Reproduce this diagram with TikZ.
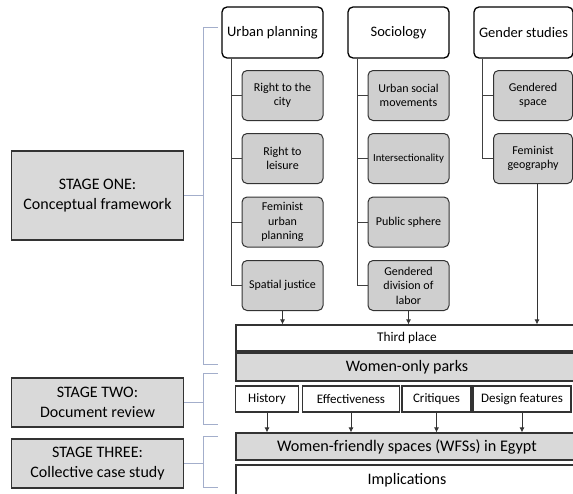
\documentclass[tikz,border=0pt]{standalone}
\usepackage{fontspec}
\setmainfont{Carlito}
\usetikzlibrary{arrows.meta}
\definecolor{boxgray}{HTML}{D9D9D9}
\definecolor{leafgray}{HTML}{CFCFCF}
\definecolor{bracketblue}{HTML}{A3AECB}
\tikzstyle{head}=[draw=black,line width=1.3pt,rounded corners=5pt,fill=white,minimum width=101pt,minimum height=51pt,inner sep=0pt,font=\fontsize{14.5}{17}\selectfont]
\tikzstyle{leaf}=[draw=black!80,line width=1pt,rounded corners=5pt,fill=leafgray,minimum width=81pt,minimum height=50pt,inner sep=0pt,align=center,font=\fontsize{12}{14.5}\selectfont]
\tikzstyle{stage}=[draw=black!80,line width=1.2pt,fill=boxgray,inner sep=0pt,align=center,minimum width=172pt,font=\fontsize{16}{19.5}\selectfont]
\tikzstyle{band}=[draw=black!80,line width=1.2pt,inner sep=0pt,minimum width=342pt]
\tikzstyle{tag}=[draw=black!80,line width=1.2pt,fill=white,inner sep=0pt,minimum height=26pt,font=\fontsize{13}{15}\selectfont]
\tikzstyle{bracket}=[draw=bracketblue,line width=0.7pt]
\tikzstyle{trunk}=[draw=black!75,line width=0.9pt]
\tikzstyle{flow}=[draw=black!80,line width=0.8pt,-{Latex[length=5pt,width=5pt]}]

\begin{document}
\begin{tikzpicture}[x=1pt,y=-1pt]
\useasboundingbox (0,0) rectangle (573,493);
\clip (0,0) rectangle (573,493);
% disciplines
\node[head] at (272.5, 32.5) (up) {Urban planning};
\node[head] at (398.5, 32.5) (soc) {Sociology};
\node[head, minimum width=99pt] at (523.5, 32.5) (gs) {Gender studies};
\node[leaf] at (282.5, 95.5) (rc) {Right to the\\city};
\node[leaf] at (282.5, 158.5) (rl) {Right to\\leisure};
\node[leaf] at (282.5, 222) (fu) {Feminist\\urban\\planning};
\node[leaf] at (282.5, 285.5) (sj) {Spatial justice};
\node[leaf] at (408.5, 95.5) (usm) {Urban social\\movements};
\node[leaf, font=\fontsize{10.8}{13}\selectfont] at (408.5, 158.5) (inter) {Intersectionality};
\node[leaf] at (408.5, 222) (ps) {Public sphere};
\node[leaf] at (408.5, 285.5) (gdl) {Gendered\\division of\\labor};
\node[leaf, minimum width=79pt] at (533, 95.5) (gsp) {Gendered\\space};
\node[leaf, minimum width=79pt] at (533, 158.5) (fg) {Feminist\\geography};
\draw[trunk] ([xshift=10pt]up.south west) |- (rc.west);
\draw[trunk] ([xshift=10pt]up.south west) |- (rl.west);
\draw[trunk] ([xshift=10pt]up.south west) |- (fu.west);
\draw[trunk] ([xshift=10pt]up.south west) |- (sj.west);
\draw[trunk] ([xshift=10pt]soc.south west) |- (usm.west);
\draw[trunk] ([xshift=10pt]soc.south west) |- (inter.west);
\draw[trunk] ([xshift=10pt]soc.south west) |- (ps.west);
\draw[trunk] ([xshift=10pt]soc.south west) |- (gdl.west);
\draw[trunk] ([xshift=9pt]gs.south west) |- (gsp.west);
\draw[trunk] ([xshift=9pt]gs.south west) |- (fg.west);
% bands
\node[band, fill=white, minimum height=26pt, font=\fontsize{13.3}{15}\selectfont] at (407, 338) (third) {Third place};
\node[band, fill=boxgray, minimum height=28pt, font=\fontsize{16}{18}\selectfont] at (407, 367) (wop) {Women-only parks};
\node[tag, minimum width=63pt] at (267, 399) (hist) {History};
\node[tag, minimum width=97pt] at (351, 399) (eff) {Effectiveness};
\node[tag, minimum width=69pt] at (436.5, 399) (crit) {Critiques};
\node[tag, minimum width=98pt] at (522, 399) (des) {Design features};
\node[band, fill=boxgray, minimum height=27pt, font=\fontsize{16.2}{18}\selectfont] at (407, 446.5) (wfs) {Women-friendly spaces (WFSs) in Egypt};
\node[band, fill=white, minimum height=30pt, font=\fontsize{16}{18}\selectfont] at (407, 480) (impl) {Implications};
\draw[flow] (sj.south) -- (sj.south |- third.north);
\draw[flow] (gdl.south) -- (gdl.south |- third.north);
\draw[flow] ([xshift=4pt]fg.south) -- ([xshift=4pt]fg.south |- third.north);
\draw[flow] (hist.south) -- (hist.south |- wfs.north);
\draw[flow] (eff.south) -- (eff.south |- wfs.north);
\draw[flow] (crit.south) -- (crit.south |- wfs.north);
\draw[flow] (des.south) -- (des.south |- wfs.north);
% stages
\node[stage, minimum height=89pt] at (97.5, 195.5) (s1) {STAGE ONE:\\Conceptual framework};
\node[stage, minimum height=49pt] at (97.5, 402.5) (s2) {STAGE TWO:\\Document review};
\node[stage, minimum height=49pt] at (97.5, 463.5) (s3) {STAGE THREE:\\Collective case study};
\coordinate (b1t) at (218, 27);
\coordinate (b1b) at (218, 364);
\coordinate (b2t) at (218, 373);
\coordinate (b2b) at (218, 424);
\coordinate (b3t) at (218, 436);
\coordinate (b3b) at (218, 487);
\draw[bracket] (b1t) -- ++(-15,0) |- (b1b);
\draw[bracket] (s1.east) -- ++(19.5,0);
\draw[bracket] (b2t) -- ++(-15,0) |- (b2b);
\draw[bracket] (s2.east) -- ++(19.5,0);
\draw[bracket] (b3t) -- ++(-15,0) |- (b3b);
\draw[bracket] (s3.east) -- ++(19.5,0);
\end{tikzpicture}
\end{document}
